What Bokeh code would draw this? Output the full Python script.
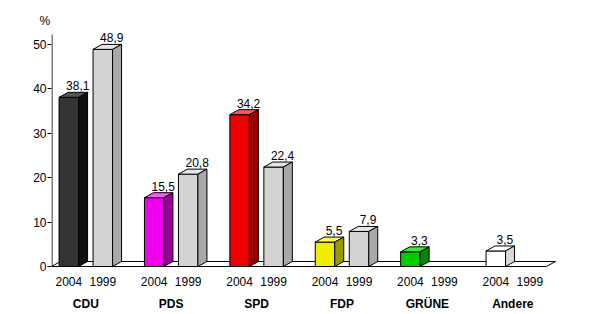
from bokeh.plotting import figure
from bokeh.models import FixedTicker
from bokeh.embed import file_html
from bokeh.resources import INLINE
from bokeh.core.properties import value

# ---- data ----
parties = ["CDU", "PDS", "SPD", "FDP", "GRÜNE", "Andere"]
years = ["2004", "1999"]
votes_2004 = [38.1, 15.5, 34.2, 5.5, 3.3, 3.5]
votes_1999 = [48.9, 20.8, 22.4, 7.9, None, None]
y_ticks = [0, 10, 20, 30, 40, 50]
unit_label = "%"

# ---- styles ----
front_2004 = ["#333333", "#ee00ee", "#ee0000", "#eeee00", "#00cc00", "#ffffff"]
top_2004 = ["#555555", "#ff55ff", "#ff5555", "#ffff55", "#33ee33", "#ffffff"]
side_2004 = ["#111111", "#990099", "#990000", "#999900", "#008800", "#d8d8d8"]
front_1999 = "#d3d3d3"
top_1999 = "#e6e6e6"
side_1999 = "#a8a8a8"
FONT = "Liberation Sans"

# ---- layout (pixels -> data units) ----
W, H = 589, 314
PX_LEFT = 51
PX_TOP = 27
X_UNIT = 85.4       # px per group
Y_UNIT = 4.44       # px per percent
ZERO_PX = 266
FIRST_CENTER_PX = 85.3
x_start = (PX_LEFT - FIRST_CENTER_PX) / X_UNIT
x_end = (W - FIRST_CENTER_PX) / X_UNIT
y_end = (ZERO_PX - PX_TOP) / Y_UNIT
y_start = -(H - ZERO_PX) / Y_UNIT

HALF_OFF = 17 / X_UNIT
BAR_W = 19.5 / X_UNIT
DX = 9 / X_UNIT
DY = 5 / Y_UNIT
AXIS_TOP = (ZERO_PX - 34) / Y_UNIT
FLOOR_END = (546 - FIRST_CENTER_PX) / X_UNIT

p = figure(width=W, height=H, x_range=(x_start, x_end), y_range=(y_start, y_end),
           output_backend="svg", toolbar_location=None, x_axis_location=None,
           min_border_left=PX_LEFT, min_border_right=0, min_border_top=PX_TOP,
           min_border_bottom=0)
p.title.text = unit_label
p.title.align = "left"
p.title.offset = -12
p.title.standoff = 0
p.title.text_font = FONT
p.title.text_font_size = "12px"
p.title.text_font_style = "normal"
p.title.text_color = "black"
p.outline_line_color = None
p.xgrid.visible = False
p.ygrid.visible = False
p.background_fill_color = "white"
p.border_fill_color = "white"

ax = p.yaxis[0]
ax.ticker = FixedTicker(ticks=y_ticks)
ax.axis_line_color = None
ax.major_tick_in = 0
ax.major_tick_out = 4
ax.minor_tick_line_color = None
ax.major_label_standoff = 1
ax.major_label_text_font = FONT
ax.major_label_text_font_size = "12px"
ax.major_label_text_color = "black"
ax.major_tick_line_color = "black"

# floor
p.patch([x_start, FLOOR_END, FLOOR_END + DX, x_start + DX],
        [0, 0, DY, DY], fill_color="white", line_color="black", line_width=1)
# axis line
ax_x = x_start + 0.5 / X_UNIT
p.segment([ax_x], [0], [ax_x], [AXIS_TOP], line_color="black", line_width=1)

fxs, fys, fcol = [], [], []
lab_x, lab_y, lab_t = [], [], []
yr_x, yr_t = [], []
for i, party in enumerate(parties):
    for k, (vals, yr) in enumerate(((votes_2004, years[0]), (votes_1999, years[1]))):
        cx = i + (-HALF_OFF if k == 0 else HALF_OFF)
        yr_x.append(cx)
        yr_t.append(yr)
        v = vals[i]
        if v is None:
            continue
        l, r = cx - BAR_W / 2, cx + BAR_W / 2
        if k == 0:
            cf, ct, cs = front_2004[i], top_2004[i], side_2004[i]
        else:
            cf, ct, cs = front_1999, top_1999, side_1999
        fxs += [[l, r, r, l], [l, r, r + DX, l + DX], [r, r + DX, r + DX, r]]
        fys += [[0, 0, v, v], [v, v, v + DY, v + DY], [0, DY, v + DY, v]]
        fcol += [cf, ct, cs]
        lab_x.append(cx + DX)
        lab_y.append(v + DY)
        lab_t.append(f"{v:.1f}".replace(".", ","))

p.patches(fxs, fys, fill_color=fcol, line_color="black", line_width=1)

p.text(lab_x, lab_y, text=lab_t, text_font=value(FONT), text_font_size="12px",
       text_align="center", text_baseline="bottom", text_color="black", y_offset=-2)
p.text(yr_x, [-(281 - ZERO_PX) / Y_UNIT] * len(yr_x), text=yr_t, text_font=value(FONT),
       text_font_size="12px", text_align="center", text_baseline="middle", text_color="black")
p.text(list(range(len(parties))), [-(303 - ZERO_PX) / Y_UNIT] * len(parties), text=parties,
       text_font=value(FONT), text_font_size="12px", text_font_style="bold",
       text_align="center", text_baseline="middle", text_color="black")

open("out.html", "w").write(file_html(p, INLINE))
